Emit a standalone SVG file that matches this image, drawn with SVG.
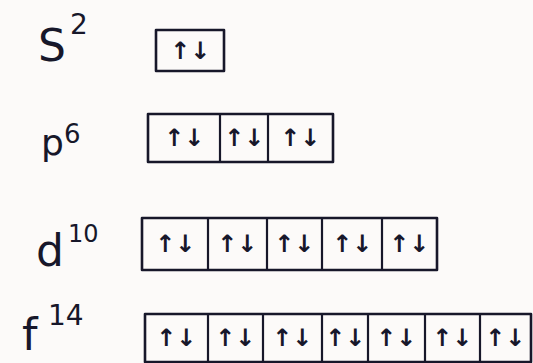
<svg xmlns="http://www.w3.org/2000/svg" width="533" height="363" viewBox="0 0 533 363">
<style>
.bg{fill:#fcfaf9}
.box{fill:none;stroke:#17172a;stroke-width:2.6;stroke-linejoin:round}
.div{stroke:#17172a;stroke-width:2.2}
.lbl{font-family:"DejaVu Sans",sans-serif;fill:#17172a}
.arr{font-family:"DejaVu Sans",sans-serif;font-size:24px;font-weight:bold;fill:#17172a;text-anchor:middle}
</style>
<rect class="bg" x="0" y="0" width="533" height="363"/>
<g id="s-orbital">
<text class="lbl" x="38" y="61" font-size="44">S</text>
<text class="lbl" x="70" y="34" font-size="28">2</text>
<rect class="box" x="156" y="30" width="68" height="41"/>
<text class="arr" x="190" y="59">↑↓</text>
</g>
<g id="p-orbital">
<text class="lbl" x="41" y="155" font-size="36">p</text>
<text class="lbl" x="64" y="143" font-size="26">6</text>
<rect class="box" x="148" y="114" width="185" height="48"/>
<line class="div" x1="220" y1="114" x2="220" y2="162"/>
<line class="div" x1="268" y1="114" x2="268" y2="162"/>
<text class="arr" x="184" y="146">↑↓</text>
<text class="arr" x="244" y="146">↑↓</text>
<text class="arr" x="300" y="146">↑↓</text>
</g>
<g id="d-orbital">
<text class="lbl" x="36" y="266" font-size="44">d</text>
<text class="lbl" x="68" y="242" font-size="24">10</text>
<rect class="box" x="142" y="218" width="295" height="52"/>
<line class="div" x1="208" y1="218" x2="208" y2="270"/>
<line class="div" x1="267" y1="218" x2="267" y2="270"/>
<line class="div" x1="322" y1="218" x2="322" y2="270"/>
<line class="div" x1="382" y1="218" x2="382" y2="270"/>
<text class="arr" x="175" y="252">↑↓</text>
<text class="arr" x="237" y="252">↑↓</text>
<text class="arr" x="294" y="252">↑↓</text>
<text class="arr" x="352" y="252">↑↓</text>
<text class="arr" x="409" y="252">↑↓</text>
</g>
<g id="f-orbital">
<text class="lbl" x="22" y="350" font-size="44">f</text>
<text class="lbl" x="48" y="325" font-size="28">14</text>
<rect class="box" x="145" y="314" width="386" height="48"/>
<line class="div" x1="208" y1="314" x2="208" y2="362"/>
<line class="div" x1="263" y1="314" x2="263" y2="362"/>
<line class="div" x1="322" y1="314" x2="322" y2="362"/>
<line class="div" x1="368" y1="314" x2="368" y2="362"/>
<line class="div" x1="425" y1="314" x2="425" y2="362"/>
<line class="div" x1="480" y1="314" x2="480" y2="362"/>
<text class="arr" x="176" y="346">↑↓</text>
<text class="arr" x="235" y="346">↑↓</text>
<text class="arr" x="292" y="346">↑↓</text>
<text class="arr" x="345" y="346">↑↓</text>
<text class="arr" x="396" y="346">↑↓</text>
<text class="arr" x="452" y="346">↑↓</text>
<text class="arr" x="505" y="346">↑↓</text>
</g>
<g id="connectors"/>
</svg>
